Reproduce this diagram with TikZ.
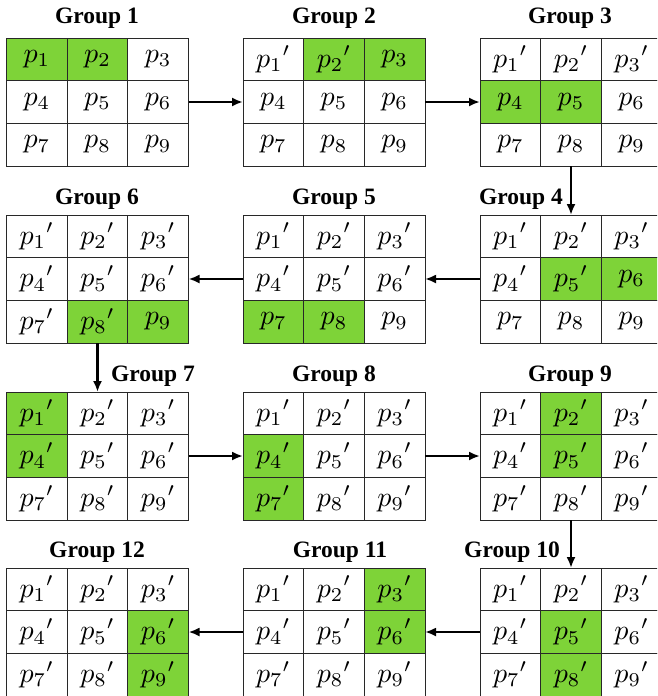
\documentclass[tikz,border=0pt]{standalone}
\usepackage{graphicx}
\usepackage[no-math]{fontspec}
\setmainfont{Liberation Serif}
\usetikzlibrary{arrows.meta}
\definecolor{hl}{RGB}{126,211,56}
\definecolor{gridline}{RGB}{40,40,40}
\newcommand\drawgrp[4]{%
  \foreach \i/\pr/\f in {#4} {
    \pgfmathtruncatemacro\cc{mod(\i-1,3)}
    \pgfmathtruncatemacro\rr{div(\i-1,3)}
    \node[cellbox,fill=\f] (#1-\i) at ({#2+(\cc+0.5)*60.67},{#3+(\rr+0.5)*42.67}) {\scalebox{2.8}{${p_{\i}}\pr$}};
  }}
\begin{document}
\begin{tikzpicture}[x=1pt,y=-1pt,
  cellbox/.style={draw=gridline,line width=0.9pt,minimum width=60.67pt,minimum height=42.67pt,inner sep=0pt,outer sep=0pt,font=\fontsize{10}{12}\selectfont},
  ttl/.style={font=\fontsize{23.5}{27}\selectfont\bfseries,inner sep=0pt},
  flow/.style={line width=2.8pt,-{Latex[length=11pt,width=9pt]}}]
\useasboundingbox (0,0) rectangle (657,696);
\begin{scope}
\clip (0,0) rectangle (657,696);
% row 1
\drawgrp{g1}{6.5}{38}{1//hl,2//hl,3//white,4//white,5//white,6//white,7//white,8//white,9//white}
\drawgrp{g2}{243}{38}{1/'/white,2/'/hl,3//hl,4//white,5//white,6//white,7//white,8//white,9//white}
\drawgrp{g3}{480}{38}{1/'/white,2/'/white,3/'/white,4//hl,5//hl,6//white,7//white,8//white,9//white}
% row 2
\drawgrp{g4}{480}{215}{1/'/white,2/'/white,3/'/white,4/'/white,5/'/hl,6//hl,7//white,8//white,9//white}
\drawgrp{g5}{243}{215}{1/'/white,2/'/white,3/'/white,4/'/white,5/'/white,6/'/white,7//hl,8//hl,9//white}
\drawgrp{g6}{6.5}{215}{1/'/white,2/'/white,3/'/white,4/'/white,5/'/white,6/'/white,7/'/white,8/'/hl,9//hl}
% row 3
\drawgrp{g7}{6.5}{392}{1/'/hl,2/'/white,3/'/white,4/'/hl,5/'/white,6/'/white,7/'/white,8/'/white,9/'/white}
\drawgrp{g8}{243}{392}{1/'/white,2/'/white,3/'/white,4/'/hl,5/'/white,6/'/white,7/'/hl,8/'/white,9/'/white}
\drawgrp{g9}{480}{392}{1/'/white,2/'/hl,3/'/white,4/'/white,5/'/hl,6/'/white,7/'/white,8/'/white,9/'/white}
% row 4
\drawgrp{g10}{480}{568}{1/'/white,2/'/white,3/'/white,4/'/white,5/'/hl,6/'/white,7/'/white,8/'/hl,9/'/white}
\drawgrp{g11}{243}{568}{1/'/white,2/'/white,3/'/hl,4/'/white,5/'/white,6/'/hl,7/'/white,8/'/white,9/'/white}
\drawgrp{g12}{6.5}{568}{1/'/white,2/'/white,3/'/white,4/'/white,5/'/white,6/'/hl,7/'/white,8/'/white,9/'/hl}
\end{scope}
% titles
\node[ttl] (t1) at (97,18) {Group 1};
\node[ttl] (t2) at (334,18) {Group 2};
\node[ttl] (t3) at (570,18) {Group 3};
\node[ttl] (t4) at (521,199) {Group 4};
\node[ttl] (t5) at (334,199) {Group 5};
\node[ttl] (t6) at (97,199) {Group 6};
\node[ttl] (t7) at (153,376) {Group 7};
\node[ttl] (t8) at (334,376) {Group 8};
\node[ttl] (t9) at (570,376) {Group 9};
\node[ttl] (t10) at (512,552) {Group 10};
\node[ttl] (t11) at (340,552) {Group 11};
\node[ttl] (t12) at (97,552) {Group 12};
% arrows
\draw[flow] (g1-6.east) -- (g2-4.west);
\draw[flow] (g2-6.east) -- (g3-4.west);
\draw[flow] (g3-8.south) -- (g4-2.north);
\draw[flow] (g4-4.west) -- (g5-6.east);
\draw[flow] (g5-4.west) -- (g6-6.east);
\draw[flow] (g6-8.south) -- (g7-2.north);
\draw[flow] (g7-6.east) -- (g8-4.west);
\draw[flow] (g8-6.east) -- (g9-4.west);
\draw[flow] (g9-8.south) -- (g10-2.north);
\draw[flow] (g10-4.west) -- (g11-6.east);
\draw[flow] (g11-4.west) -- (g12-6.east);
\end{tikzpicture}
\end{document}
